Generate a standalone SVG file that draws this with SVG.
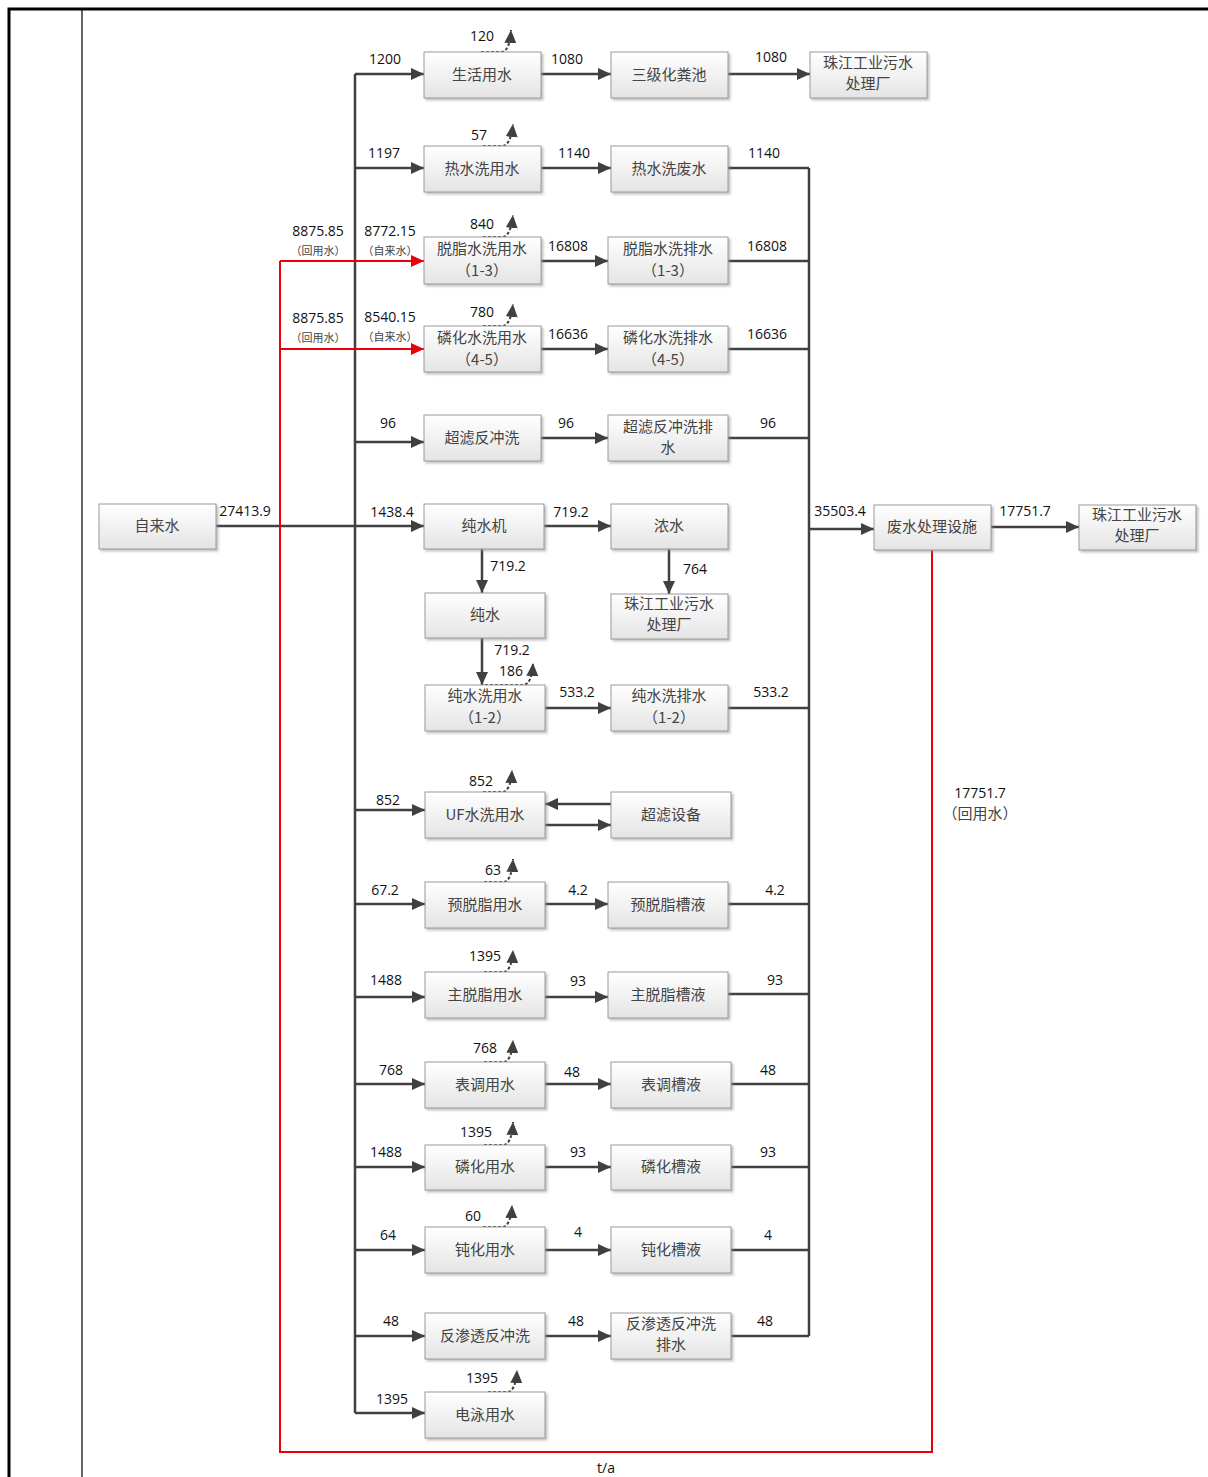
<svg xmlns="http://www.w3.org/2000/svg" width="1208" height="1477" viewBox="0 0 1208 1477">
<style>
.bx{fill:url(#g);stroke:#9a9a9a;stroke-width:1;filter:url(#sh)}
.t{font-family:"Noto Sans CJK SC","Noto Sans",sans-serif;font-size:15px;fill:#444;text-anchor:middle}
.n{font-family:"Open Sans","Liberation Sans",sans-serif;font-size:14px;fill:#111;text-anchor:middle}
.s{font-family:"Noto Sans CJK SC",sans-serif;font-size:11px;fill:#444;text-anchor:middle}
.c{fill:none;stroke:#404040;stroke-width:2.5}
.ca{fill:none;stroke:#404040;stroke-width:2.5;marker-end:url(#a)}
.r{fill:none;stroke:#e8000b;stroke-width:2}
.ra{fill:none;stroke:#e8000b;stroke-width:2;marker-end:url(#ar)}
.l{fill:none;stroke:#404040;stroke-width:2;stroke-dasharray:3 2;marker-end:url(#a)}
</style>
<defs>
<linearGradient id="g" x1="0" y1="0" x2="0" y2="1"><stop offset="0" stop-color="#ffffff"/><stop offset="1" stop-color="#e4e4e4"/></linearGradient>
<filter id="sh" x="-10%" y="-10%" width="130%" height="140%"><feDropShadow dx="2" dy="2" stdDeviation="1" flood-color="#888" flood-opacity="0.5"/></filter>
<marker id="a" markerUnits="userSpaceOnUse" markerWidth="14" markerHeight="12" refX="13" refY="6" orient="auto"><path d="M0,0 L13,6 L0,12 z" fill="#404040"/></marker>
<marker id="ar" markerUnits="userSpaceOnUse" markerWidth="14" markerHeight="12" refX="13" refY="6" orient="auto"><path d="M0,0 L13,6 L0,12 z" fill="#e8000b"/></marker>
</defs>
<rect width="1208" height="1477" fill="#fff"/>
<g id="frame">
<path d="M9,1477 V9 H1208" fill="none" stroke="#000" stroke-width="3"/>
<path d="M82,9 V1477" fill="none" stroke="#000" stroke-width="1.2"/>
</g>
<g id="connectors">
<path class="c" d="M355,74 V1413"/>
<path class="ca" d="M355,74 H424"/>
<path class="ca" d="M355,168 H424"/>
<path class="ca" d="M355,442 H424"/>
<path class="ca" d="M216,526 H424"/>
<path class="ca" d="M355,810 H425"/>
<path class="ca" d="M355,904 H425"/>
<path class="ca" d="M355,997 H425"/>
<path class="ca" d="M355,1084 H425"/>
<path class="ca" d="M355,1167 H425"/>
<path class="ca" d="M355,1250 H425"/>
<path class="ca" d="M355,1336 H425"/>
<path class="ca" d="M355,1413 H425"/>
<path class="ca" d="M541,74 H611"/>
<path class="ca" d="M728,74 H810"/>
<path class="ca" d="M541,168 H611"/>
<path class="ca" d="M541,261 H608"/>
<path class="ca" d="M541,349 H608"/>
<path class="ca" d="M541,438 H608"/>
<path class="ca" d="M544,526 H611"/>
<path class="ca" d="M669,549 V594"/>
<path class="ca" d="M482,549 V593"/>
<path class="ca" d="M482,638 V685"/>
<path class="ca" d="M545,708 H611"/>
<path class="ca" d="M611,804 H545"/>
<path class="ca" d="M545,825 H611"/>
<path class="ca" d="M545,904 H608"/>
<path class="ca" d="M545,997 H608"/>
<path class="ca" d="M545,1084 H611"/>
<path class="ca" d="M545,1167 H611"/>
<path class="ca" d="M545,1250 H611"/>
<path class="ca" d="M545,1336 H611"/>
<path class="c" d="M809,168 V1336"/>
<path class="c" d="M728,168 H809 M728,261 H809 M728,349 H809 M728,438 H809 M728,708 H809 M728,904 H809 M728,994 H809 M731,1084 H809 M731,1167 H809 M731,1250 H809 M731,1336 H809"/>
<path class="ca" d="M809,529 H874" stroke-width="3"/>
<path class="ca" d="M991,527 H1079"/>
<path class="r" d="M932,550 V1452 H280 V261"/>
<path class="ra" d="M280,261 H424"/>
<path class="ra" d="M280,349 H424"/>
<path class="l" d="M481,52 L502,52 Q510,50 511,30"/>
<path class="l" d="M483,146 L503,146 Q511,144 513,124"/>
<path class="l" d="M483,237 L503,237 Q511,235 513,215"/>
<path class="l" d="M483,326 L503,326 Q511,324 513,304"/>
<path class="l" d="M485,685 L524,685 Q532,683 533,663"/>
<path class="l" d="M483,792 L503,792 Q511,790 512,770"/>
<path class="l" d="M484,882 L504,882 Q512,880 513,859"/>
<path class="l" d="M484,972 L504,972 Q512,970 513,950"/>
<path class="l" d="M484,1062 L504,1062 Q512,1060 513,1040"/>
<path class="l" d="M484,1145 L504,1145 Q512,1143 513,1122"/>
<path class="l" d="M483,1227 L503,1227 Q511,1225 512,1205"/>
<path class="l" d="M488,1392 L508,1392 Q516,1390 517,1370"/>
</g>
<g id="labels">
<text class="n" x="385" y="64">1200</text>
<text class="n" x="567" y="64">1080</text>
<text class="n" x="771" y="62">1080</text>
<text class="n" x="482" y="41">120</text>
<text class="n" x="384" y="158">1197</text>
<text class="n" x="574" y="158">1140</text>
<text class="n" x="764" y="158">1140</text>
<text class="n" x="479" y="140">57</text>
<text class="n" x="318" y="236">8875.85</text>
<text class="s" x="318" y="255">（回用水）</text>
<text class="n" x="390" y="236">8772.15</text>
<text class="s" x="390" y="255">（自来水）</text>
<text class="n" x="482" y="229">840</text>
<text class="n" x="568" y="251">16808</text>
<text class="n" x="767" y="251">16808</text>
<text class="n" x="318" y="323">8875.85</text>
<text class="s" x="318" y="342">（回用水）</text>
<text class="n" x="390" y="322">8540.15</text>
<text class="s" x="390" y="341">（自来水）</text>
<text class="n" x="482" y="317">780</text>
<text class="n" x="568" y="339">16636</text>
<text class="n" x="767" y="339">16636</text>
<text class="n" x="388" y="428">96</text>
<text class="n" x="566" y="428">96</text>
<text class="n" x="768" y="428">96</text>
<text class="n" x="245" y="516">27413.9</text>
<text class="n" x="392" y="517">1438.4</text>
<text class="n" x="571" y="517">719.2</text>
<text class="n" x="508" y="571">719.2</text>
<text class="n" x="695" y="574">764</text>
<text class="n" x="512" y="655">719.2</text>
<text class="n" x="511" y="676">186</text>
<text class="n" x="577" y="697">533.2</text>
<text class="n" x="771" y="697">533.2</text>
<text class="n" x="840" y="516">35503.4</text>
<text class="n" x="1025" y="516">17751.7</text>
<text class="n" x="980" y="798">17751.7</text>
<text class="t" x="980" y="819">（回用水）</text>
<text class="n" x="388" y="805">852</text>
<text class="n" x="481" y="786">852</text>
<text class="n" x="385" y="895">67.2</text>
<text class="n" x="493" y="875">63</text>
<text class="n" x="578" y="895">4.2</text>
<text class="n" x="775" y="895">4.2</text>
<text class="n" x="386" y="985">1488</text>
<text class="n" x="485" y="961">1395</text>
<text class="n" x="578" y="986">93</text>
<text class="n" x="775" y="985">93</text>
<text class="n" x="391" y="1075">768</text>
<text class="n" x="485" y="1053">768</text>
<text class="n" x="572" y="1077">48</text>
<text class="n" x="768" y="1075">48</text>
<text class="n" x="386" y="1157">1488</text>
<text class="n" x="476" y="1137">1395</text>
<text class="n" x="578" y="1157">93</text>
<text class="n" x="768" y="1157">93</text>
<text class="n" x="388" y="1240">64</text>
<text class="n" x="473" y="1221">60</text>
<text class="n" x="578" y="1237">4</text>
<text class="n" x="768" y="1240">4</text>
<text class="n" x="391" y="1326">48</text>
<text class="n" x="576" y="1326">48</text>
<text class="n" x="765" y="1326">48</text>
<text class="n" x="392" y="1404">1395</text>
<text class="n" x="482" y="1383">1395</text>
<text class="n" x="606" y="1473">t/a</text>
</g>
<g id="n1"><rect class="bx" x="424" y="52" width="117" height="46"/><text class="t" x="482" y="80">生活用水</text></g>
<g id="n2"><rect class="bx" x="611" y="52" width="117" height="46"/><text class="t" x="669" y="80">三级化粪池</text></g>
<g id="n3"><rect class="bx" x="810" y="52" width="117" height="46"/><text class="t" x="868" y="68">珠江工业污水</text><text class="t" x="868" y="89">处理厂</text></g>
<g id="n4"><rect class="bx" x="424" y="146" width="117" height="46"/><text class="t" x="482" y="174">热水洗用水</text></g>
<g id="n5"><rect class="bx" x="611" y="146" width="117" height="46"/><text class="t" x="669" y="174">热水洗废水</text></g>
<g id="n6"><rect class="bx" x="424" y="237" width="117" height="47"/><text class="t" x="482" y="254">脱脂水洗用水</text><text class="t" x="482" y="276">（1-3）</text></g>
<g id="n7"><rect class="bx" x="608" y="237" width="120" height="47"/><text class="t" x="668" y="254">脱脂水洗排水</text><text class="t" x="668" y="276">（1-3）</text></g>
<g id="n8"><rect class="bx" x="424" y="326" width="117" height="46"/><text class="t" x="482" y="343">磷化水洗用水</text><text class="t" x="482" y="365">（4-5）</text></g>
<g id="n9"><rect class="bx" x="608" y="326" width="120" height="46"/><text class="t" x="668" y="343">磷化水洗排水</text><text class="t" x="668" y="365">（4-5）</text></g>
<g id="n10"><rect class="bx" x="424" y="415" width="117" height="46"/><text class="t" x="482" y="443">超滤反冲洗</text></g>
<g id="n11"><rect class="bx" x="608" y="415" width="120" height="46"/><text class="t" x="668" y="432">超滤反冲洗排</text><text class="t" x="668" y="453">水</text></g>
<g id="n12"><rect class="bx" x="99" y="504" width="117" height="45"/><text class="t" x="157" y="531">自来水</text></g>
<g id="n13"><rect class="bx" x="424" y="504" width="120" height="45"/><text class="t" x="484" y="531">纯水机</text></g>
<g id="n14"><rect class="bx" x="611" y="504" width="117" height="45"/><text class="t" x="669" y="531">浓水</text></g>
<g id="n15"><rect class="bx" x="611" y="594" width="117" height="45"/><text class="t" x="669" y="609">珠江工业污水</text><text class="t" x="669" y="630">处理厂</text></g>
<g id="n16"><rect class="bx" x="425" y="593" width="120" height="45"/><text class="t" x="485" y="620">纯水</text></g>
<g id="n17"><rect class="bx" x="425" y="685" width="120" height="46"/><text class="t" x="485" y="701">纯水洗用水</text><text class="t" x="485" y="723">（1-2）</text></g>
<g id="n18"><rect class="bx" x="611" y="685" width="117" height="46"/><text class="t" x="669" y="701">纯水洗排水</text><text class="t" x="669" y="723">（1-2）</text></g>
<g id="n19"><rect class="bx" x="874" y="505" width="117" height="45"/><text class="t" x="932" y="532">废水处理设施</text></g>
<g id="n20"><rect class="bx" x="1079" y="505" width="117" height="45"/><text class="t" x="1137" y="520">珠江工业污水</text><text class="t" x="1137" y="541">处理厂</text></g>
<g id="n21"><rect class="bx" x="425" y="792" width="120" height="46"/><text class="t" x="485" y="820">UF水洗用水</text></g>
<g id="n22"><rect class="bx" x="611" y="792" width="120" height="46"/><text class="t" x="671" y="820">超滤设备</text></g>
<g id="n23"><rect class="bx" x="425" y="882" width="120" height="46"/><text class="t" x="485" y="910">预脱脂用水</text></g>
<g id="n24"><rect class="bx" x="608" y="882" width="120" height="46"/><text class="t" x="668" y="910">预脱脂槽液</text></g>
<g id="n25"><rect class="bx" x="425" y="972" width="120" height="46"/><text class="t" x="485" y="1000">主脱脂用水</text></g>
<g id="n26"><rect class="bx" x="608" y="972" width="120" height="46"/><text class="t" x="668" y="1000">主脱脂槽液</text></g>
<g id="n27"><rect class="bx" x="425" y="1062" width="120" height="46"/><text class="t" x="485" y="1090">表调用水</text></g>
<g id="n28"><rect class="bx" x="611" y="1062" width="120" height="46"/><text class="t" x="671" y="1090">表调槽液</text></g>
<g id="n29"><rect class="bx" x="425" y="1145" width="120" height="45"/><text class="t" x="485" y="1172">磷化用水</text></g>
<g id="n30"><rect class="bx" x="611" y="1145" width="120" height="45"/><text class="t" x="671" y="1172">磷化槽液</text></g>
<g id="n31"><rect class="bx" x="425" y="1227" width="120" height="46"/><text class="t" x="485" y="1255">钝化用水</text></g>
<g id="n32"><rect class="bx" x="611" y="1227" width="120" height="46"/><text class="t" x="671" y="1255">钝化槽液</text></g>
<g id="n33"><rect class="bx" x="425" y="1313" width="120" height="46"/><text class="t" x="485" y="1341">反渗透反冲洗</text></g>
<g id="n34"><rect class="bx" x="611" y="1313" width="120" height="46"/><text class="t" x="671" y="1329">反渗透反冲洗</text><text class="t" x="671" y="1350">排水</text></g>
<g id="n35"><rect class="bx" x="425" y="1392" width="120" height="46"/><text class="t" x="485" y="1420">电泳用水</text></g>
</svg>
